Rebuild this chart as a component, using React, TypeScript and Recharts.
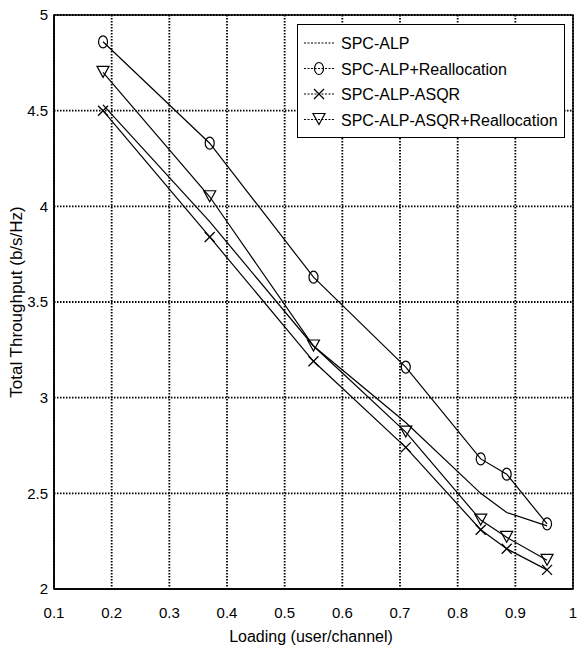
import React from "react";
import {
  LineChart,
  Line,
  XAxis,
  YAxis,
  CartesianGrid,
  ReferenceArea,
  Label,
} from "recharts";

const loading = [0.185, 0.37, 0.55, 0.71, 0.84, 0.885, 0.955];
const spcAlp = [4.53, 3.92, 3.27, 2.87, 2.5, 2.4, 2.33];
const spcAlpRealloc = [4.86, 4.33, 3.63, 3.16, 2.68, 2.6, 2.34];
const spcAlpAsqr = [4.5, 3.84, 3.19, 2.74, 2.31, 2.21, 2.1];
const spcAlpAsqrRealloc = [4.7, 4.05, 3.27, 2.82, 2.36, 2.27, 2.15];

const xTicks = [0.1, 0.2, 0.3, 0.4, 0.5, 0.6, 0.7, 0.8, 0.9, 1];
const yTicks = [2, 2.5, 3, 3.5, 4, 4.5, 5];

const FONT = "'Liberation Sans', Arial, Helvetica, sans-serif";

const data = loading.map((x, i) => ({
  x,
  alp: spcAlp[i],
  alpRe: spcAlpRealloc[i],
  asqr: spcAlpAsqr[i],
  asqrRe: spcAlpAsqrRealloc[i],
}));

type Mark = "none" | "circle" | "cross" | "tri";

const Marker = ({ kind, cx, cy }: { kind: Mark; cx: number; cy: number }) => {
  if (kind === "circle")
    return <ellipse cx={cx} cy={cy} rx={4.5} ry={6} fill="none" stroke="#000" strokeWidth={1.2} />;
  if (kind === "cross")
    return (
      <g stroke="#000" strokeWidth={1.3}>
        <line x1={cx - 5} y1={cy - 5} x2={cx + 5} y2={cy + 5} />
        <line x1={cx - 5} y1={cy + 5} x2={cx + 5} y2={cy - 5} />
      </g>
    );
  if (kind === "tri")
    return (
      <polygon
        points={`${cx - 6},${cy - 6} ${cx + 6},${cy - 6} ${cx},${cy + 5}`}
        fill="none"
        stroke="#000"
        strokeWidth={1.2}
      />
    );
  return null;
};

const dotFor = (kind: Mark) => (props: any) => (
  <Marker key={`${kind}-${props.index}`} kind={kind} cx={props.cx} cy={props.cy} />
);

const series: { key: string; name: string; mark: Mark }[] = [
  { key: "alp", name: "SPC-ALP", mark: "none" },
  { key: "alpRe", name: "SPC-ALP+Reallocation", mark: "circle" },
  { key: "asqr", name: "SPC-ALP-ASQR", mark: "cross" },
  { key: "asqrRe", name: "SPC-ALP-ASQR+Reallocation", mark: "tri" },
];

// legend drawn as an overlay so it doesn't shrink the plot area
const LegendBox = () => (
  <div
    style={{
      position: "absolute",
      left: 297,
      top: 24,
      width: 268,
      height: 114,
      border: "1.5px solid #000",
      background: "#fff",
      boxSizing: "border-box",
    }}
  >
    <svg width={265} height={111} style={{ display: "block" }}>
      {series.map((s, i) => {
        const y = 18 + i * 25.5;
        return (
          <g key={s.key}>
            <line x1={6} x2={37} y1={y} y2={y} stroke="#000" strokeWidth={1} strokeDasharray="2 1.5" />
            <Marker kind={s.mark} cx={21} cy={y} />
            <text x={43} y={y + 6} fontFamily={FONT} fontSize={16} fill="#000">
              {s.name}
            </text>
          </g>
        );
      })}
    </svg>
  </div>
);

export default function App() {
  return (
    <div style={{ position: "absolute", left: 0, top: 0, width: 577, height: 656, background: "#fff" }}>
      <LineChart
        width={577}
        height={656}
        data={data}
        margin={{ top: 15, right: 4, bottom: 17, left: 0 }}
      >
        <CartesianGrid stroke="#000" strokeDasharray="1.5 1.5" strokeWidth={1.8} />
        <XAxis
          dataKey="x"
          type="number"
          domain={[0.1, 1]}
          ticks={xTicks}
          height={50}
          tickSize={0}
          tickMargin={18}
          axisLine={{ stroke: "#000", strokeWidth: 1.5 }}
          tick={{ fill: "#000", fontSize: 15, fontFamily: FONT }}
          tickFormatter={(v: number) => String(v)}
        >
          <Label
            content={() => (
              <text x={311} y={642} textAnchor="middle" fontFamily={FONT} fontSize={16} fill="#000">
                Loading (user/channel)
              </text>
            )}
          />
        </XAxis>
        <YAxis
          type="number"
          domain={[2, 5]}
          ticks={yTicks}
          width={54}
          tickSize={0}
          tickMargin={6}
          axisLine={{ stroke: "#000", strokeWidth: 1.5 }}
          tick={{ fill: "#000", fontSize: 15, fontFamily: FONT }}
          tickFormatter={(v: number) => String(v)}
        >
          <Label
            content={() => (
              <text
                x={22}
                y={302}
                transform="rotate(-90 22 302)"
                textAnchor="middle"
                fontFamily={FONT}
                fontSize={17}
                fill="#000"
              >
                Total Throughput (b/s/Hz)
              </text>
            )}
          />
        </YAxis>
        <ReferenceArea x1={0.1} x2={1} y1={2} y2={5} fill="none" stroke="#000" strokeWidth={1.5} />
        {series.map((s) => (
          <Line
            key={s.key}
            dataKey={s.key}
            name={s.name}
            type="linear"
            stroke="#000"
            strokeWidth={1.2}
            dot={s.mark === "none" ? false : dotFor(s.mark)}
            activeDot={false}
            isAnimationActive={false}
          />
        ))}
      </LineChart>
      <LegendBox />
    </div>
  );
}
